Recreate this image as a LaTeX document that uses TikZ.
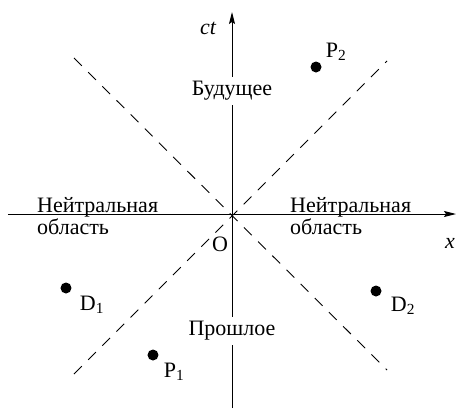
\documentclass[tikz,border=0pt]{standalone}
\usepackage{fontspec}
\setmainfont{Liberation Serif}
\usetikzlibrary{arrows.meta}

\begin{document}
\begin{tikzpicture}[x=1pt, y=1pt, every node/.style={font=\rmfamily\fontsize{22}{26}\selectfont, inner sep=0pt},
	>={Stealth[length=12pt, width=6pt, inset=2pt]},
	dot/.style={circle, fill, minimum size=11pt},
	cone/.style={dash pattern=on 11pt off 9pt, line width=0.9pt},
	region/.style={fill=white, inner sep=4pt}]
	\useasboundingbox (-232,-194) rectangle (225,214);
	% axes
	\draw[->, line width=1pt] (-224,0) -- (224,0);
	\draw[->, line width=1pt] (0,-194) -- (0,202);
	\node (ct) at (-24,186) {\itshape ct};
	\node (xlab) at (218,-29) {\itshape x};
	\node (O) at (-12,-30) {O};
	% light cone
	\draw[cone] (-158,156) -- (155,-156);
	\draw[cone] (-158,-160) -- (155,153);
	\node[region] (future) at (0,123) {Будущее};
	\node[region] (past) at (0,-117) {Прошлое};
	\node[anchor=base west] (neutL) at (-195,2) {Нейтральная};
	\node[anchor=base west] (areaL) at (-195,-20) {область};
	\node[anchor=base west] (neutR) at (58,2) {Нейтральная};
	\node[anchor=base west] (areaR) at (58,-20) {область};
	% events
	\node[dot] (P2) at (84,147) {};
	\node[dot] (D1) at (-166,-74) {};
	\node[dot] (D2) at (144,-77) {};
	\node[dot] (P1) at (-79,-141) {};
	\node (P2lab) at (104,162) {P\textsubscript{2}};
	\node (D1lab) at (-140,-91) {D\textsubscript{1}};
	\node (D2lab) at (171,-92) {D\textsubscript{2}};
	\node (P1lab) at (-58,-158) {P\textsubscript{1}};
\end{tikzpicture}
\end{document}
